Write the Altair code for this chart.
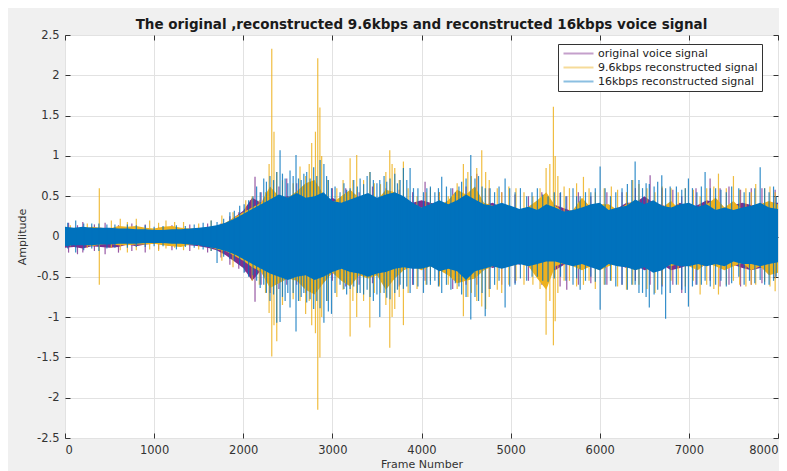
import altair as alt
import pandas as pd

# ---------------- data ----------------
series_names = ["original voice signal", "9.6kbps reconstructed signal", "16kbps reconstructed signal"]
series_colors = ["#7E2F8E", "#EDB120", "#0072BD"]

x_ticks = [0, 1000, 2000, 3000, 4000, 5000, 6000, 7000, 8000]
y_ticks = [-2.5, -2, -1.5, -1, -0.5, 0, 0.5, 1, 1.5, 2, 2.5]

# dense core of each signal, every 100 frames (0..8000)
frames = list(range(0, 8001, 100))

orig_hi = [0.11, 0.09, 0.10, 0.10, 0.11, 0.09, 0.08, 0.08, 0.09, 0.08,
           0.08, 0.07, 0.09, 0.08, 0.08, 0.10, 0.09, 0.11, 0.16, 0.24,
           0.32, 0.48, 0.42, 0.45, 0.48, 0.50, 0.48, 0.45, 0.50, 0.42,
           0.48, 0.42, 0.45, 0.42, 0.48, 0.42, 0.45, 0.42, 0.45, 0.42,
           0.45, 0.42, 0.39, 0.42, 0.45, 0.50, 0.42, 0.39, 0.42, 0.35,
           0.35, 0.31, 0.35, 0.39, 0.35, 0.39, 0.35, 0.31, 0.35, 0.39,
           0.35, 0.31, 0.35, 0.42, 0.42, 0.50, 0.42, 0.39, 0.35, 0.42,
           0.35, 0.39, 0.45, 0.42, 0.35, 0.39, 0.42, 0.39, 0.35, 0.42,
           0.42]
orig_lo = [-0.14, -0.13, -0.15, -0.12, -0.13, -0.14, -0.13, -0.10, -0.12, -0.10,
           -0.09, -0.10, -0.12, -0.10, -0.11, -0.12, -0.14, -0.17, -0.23, -0.31,
           -0.39, -0.55, -0.42, -0.48, -0.45, -0.48, -0.45, -0.42, -0.48, -0.42,
           -0.45, -0.39, -0.42, -0.39, -0.45, -0.39, -0.42, -0.39, -0.42, -0.35,
           -0.39, -0.35, -0.39, -0.42, -0.39, -0.42, -0.39, -0.35, -0.39, -0.35,
           -0.31, -0.35, -0.31, -0.35, -0.39, -0.42, -0.35, -0.31, -0.35, -0.31,
           -0.35, -0.31, -0.35, -0.39, -0.35, -0.42, -0.39, -0.35, -0.42, -0.39,
           -0.35, -0.39, -0.35, -0.31, -0.39, -0.35, -0.39, -0.42, -0.39, -0.35,
           -0.35]

k96_hi = [0.08, 0.10, 0.09, 0.12, 0.11, 0.10, 0.13, 0.12, 0.13, 0.11,
          0.10, 0.12, 0.13, 0.11, 0.10, 0.10, 0.11, 0.13, 0.17, 0.24,
          0.30, 0.36, 0.42, 0.62, 0.50, 0.48, 0.56, 0.66, 0.70, 0.52,
          0.42, 0.50, 0.58, 0.48, 0.52, 0.45, 0.58, 0.55, 0.45, 0.40,
          0.36, 0.33, 0.38, 0.45, 0.58, 0.52, 0.62, 0.42, 0.38, 0.34,
          0.36, 0.33, 0.37, 0.45, 0.55, 0.38, 0.30, 0.33, 0.48, 0.36,
          0.40, 0.40, 0.33, 0.40, 0.45, 0.36, 0.40, 0.36, 0.44, 0.33,
          0.36, 0.33, 0.40, 0.48, 0.36, 0.44, 0.33, 0.36, 0.40, 0.44,
          0.40]
k96_lo = [-0.08, -0.09, -0.10, -0.12, -0.10, -0.09, -0.11, -0.11, -0.10, -0.10,
          -0.09, -0.11, -0.12, -0.13, -0.10, -0.10, -0.11, -0.16, -0.18, -0.24,
          -0.30, -0.38, -0.44, -0.64, -0.58, -0.52, -0.55, -0.66, -0.72, -0.58,
          -0.45, -0.55, -0.62, -0.48, -0.52, -0.48, -0.66, -0.52, -0.42, -0.37,
          -0.42, -0.37, -0.42, -0.48, -0.58, -0.55, -0.52, -0.42, -0.37, -0.33,
          -0.37, -0.33, -0.37, -0.52, -0.66, -0.37, -0.33, -0.37, -0.42, -0.37,
          -0.42, -0.37, -0.33, -0.37, -0.42, -0.37, -0.42, -0.33, -0.37, -0.33,
          -0.37, -0.42, -0.33, -0.37, -0.42, -0.37, -0.33, -0.42, -0.37, -0.48,
          -0.45]

k16_hi = [0.12, 0.11, 0.12, 0.11, 0.11, 0.11, 0.10, 0.10, 0.09, 0.09,
          0.08, 0.08, 0.09, 0.09, 0.10, 0.11, 0.12, 0.14, 0.17, 0.22,
          0.28, 0.34, 0.40, 0.46, 0.52, 0.48, 0.54, 0.48, 0.50, 0.55,
          0.44, 0.42, 0.46, 0.50, 0.54, 0.48, 0.52, 0.55, 0.50, 0.42,
          0.36, 0.40, 0.45, 0.40, 0.45, 0.52, 0.46, 0.40, 0.38, 0.42,
          0.38, 0.34, 0.37, 0.33, 0.40, 0.36, 0.31, 0.33, 0.36, 0.40,
          0.42, 0.33, 0.36, 0.38, 0.46, 0.40, 0.45, 0.38, 0.36, 0.40,
          0.42, 0.37, 0.40, 0.33, 0.36, 0.33, 0.36, 0.38, 0.42, 0.36,
          0.34]
k16_lo = [-0.12, -0.11, -0.11, -0.11, -0.10, -0.10, -0.09, -0.09, -0.09, -0.08,
          -0.08, -0.08, -0.09, -0.09, -0.10, -0.11, -0.13, -0.15, -0.18, -0.22,
          -0.28, -0.34, -0.40, -0.46, -0.50, -0.54, -0.50, -0.48, -0.54, -0.50,
          -0.44, -0.40, -0.44, -0.46, -0.50, -0.46, -0.44, -0.40, -0.38, -0.40,
          -0.40, -0.37, -0.43, -0.40, -0.43, -0.54, -0.43, -0.40, -0.37, -0.40,
          -0.37, -0.34, -0.37, -0.34, -0.31, -0.31, -0.34, -0.37, -0.34, -0.38,
          -0.42, -0.34, -0.37, -0.38, -0.42, -0.38, -0.45, -0.42, -0.34, -0.37,
          -0.37, -0.34, -0.37, -0.34, -0.37, -0.31, -0.34, -0.34, -0.37, -0.34,
          -0.32]

# spikes sticking out of the core: (frame, top, bottom)
orig_spikes = [
    (40, 0.17, -0.2), (140, 0.14, -0.22), (200, 0.18, -0.2), (330, 0.15, -0.18), (450, 0.17, -0.22),
    (600, 0.14, -0.2), (750, 0.16, -0.18), (900, 0.15, -0.2), (1050, 0.12, -0.16), (1200, 0.14, -0.17),
    (1400, 0.15, -0.18), (1600, 0.16, -0.2), (1750, 0.16, -0.26), (1850, 0.25, -0.35), (1950, 0.3, -0.4),
    (2020, 0.3, -0.44), (2080, 0.45, -0.5), (2132, 0.74, -0.81), (2200, 0.55, -0.6), (2300, 0.6, -0.7),
    (2400, 0.62, -0.65), (2488, 0.72, -0.6), (2600, 0.66, -0.6), (2700, 0.6, -0.7), (2850, 0.62, -0.6),
    (3000, 0.6, -0.55), (3150, 0.6, -0.62), (3300, 0.55, -0.6), (3450, 0.62, -0.58), (3600, 0.6, -0.55),
    (3750, 0.58, -0.62), (3900, 0.55, -0.6), (4040, 0.68, -0.55), (4200, 0.55, -0.6), (4350, 0.6, -0.65),
    (4500, 0.62, -0.6), (4620, 0.78, -0.6), (4760, 0.6, -0.65), (4900, 0.55, -0.6), (5050, 0.52, -0.58),
    (5200, 0.5, -0.55), (5350, 0.55, -0.6), (5555, 0.54, -0.62), (5630, 0.5, -0.66), (5760, 0.55, -0.6),
    (5900, 0.5, -0.58), (6080, 0.55, -0.6), (6250, 0.55, -0.6), (6400, 0.6, -0.55), (6565, 0.76, -0.6),
    (6700, 0.6, -0.62), (6820, 0.58, -0.6), (6920, 0.5, -0.7), (7080, 0.6, -0.6), (7238, 0.72, -0.55),
    (7350, 0.6, -0.62), (7450, 0.62, -0.6), (7580, 0.58, -0.62), (7700, 0.6, -0.6), (7820, 0.6, -0.58),
    (7968, 0.58, -0.52)]

k96_spikes = [
    (60, 0.14, -0.12), (250, 0.16, -0.14), (385, 0.6, -0.6), (520, 0.2, -0.14), (620, 0.22, -0.17),
    (700, 0.18, -0.2), (800, 0.22, -0.17), (950, 0.2, -0.16), (1050, 0.17, -0.18), (1133, 0.2, -0.15),
    (1230, 0.18, -0.14), (1330, 0.18, -0.17), (1500, 0.16, -0.16), (1640, 0.2, -0.18), (1760, 0.26, -0.3),
    (1885, 0.3, -0.38), (2028, 0.45, -0.3), (2100, 0.5, -0.55), (2180, 0.45, -0.6), (2250, 0.55, -0.7),
    (2290, 0.9, -0.95), (2320, 2.33, -1.49), (2345, 1.3, -1.1), (2376, 0.8, -1.3), (2440, 0.7, -0.85),
    (2560, 0.66, -0.78), (2637, 0.87, -0.8), (2700, 0.75, -0.96), (2740, 0.9, -0.8), (2768, 1.16, -1.1),
    (2810, 1.3, -1.2), (2836, 2.21, -2.15), (2860, 1.6, -1.5), (2880, 1.0, -1.0), (2950, 0.7, -0.8),
    (3050, 0.6, -0.75), (3120, 0.7, -0.66), (3199, 0.97, -1.24), (3230, 0.7, -0.8), (3273, 1.01, -1.0),
    (3350, 0.7, -0.8), (3420, 0.8, -1.13), (3470, 0.66, -0.7), (3540, 0.65, -0.7), (3600, 0.8, -0.85),
    (3644, 1.07, -1.38), (3670, 0.9, -1.0), (3700, 0.85, -0.9), (3750, 0.7, -0.75), (3797, 0.93, -1.1),
    (3850, 0.6, -0.7), (3950, 0.5, -0.65), (4050, 0.55, -0.6), (4100, 0.6, -0.55), (4200, 0.55, -0.62),
    (4300, 0.5, -0.6), (4400, 0.66, -0.65), (4470, 0.9, -0.99), (4520, 0.8, -0.75), (4560, 0.75, -0.7),
    (4620, 0.85, -0.8), (4676, 1.07, -0.87), (4720, 0.8, -0.9), (4760, 0.7, -0.75), (4850, 0.6, -0.66),
    (4900, 0.55, -0.7), (4980, 0.62, -0.6), (5060, 0.6, -0.55), (5150, 0.55, -0.6), (5250, 0.5, -0.6),
    (5330, 0.6, -0.65), (5398, 0.85, -1.22), (5440, 0.9, -0.8), (5480, 1.61, -1.35), (5500, 1.0, -1.05),
    (5530, 0.75, -0.7), (5600, 0.62, -0.55), (5660, 0.6, -0.55), (5740, 0.66, -0.62), (5817, 0.74, -0.6),
    (5880, 0.6, -0.55), (5950, 0.55, -0.65), (6050, 0.6, -0.6), (6130, 0.62, -0.55), (6200, 0.58, -0.62),
    (6300, 0.55, -0.66), (6370, 0.7, -0.6), (6440, 0.65, -0.6), (6530, 0.6, -0.65), (6620, 0.55, -0.7),
    (6700, 0.62, -0.6), (6800, 0.6, -0.55), (6880, 0.55, -0.6), (6960, 0.6, -0.62), (7050, 0.58, -0.55),
    (7126, 0.5, -0.72), (7200, 0.6, -0.6), (7280, 0.62, -0.65), (7332, 0.78, -0.72), (7420, 0.6, -0.6),
    (7500, 0.75, -0.55), (7570, 0.58, -0.6), (7640, 0.6, -0.62), (7700, 0.55, -0.6), (7750, 0.65, -0.6),
    (7850, 0.6, -0.56), (7910, 0.62, -0.62), (7968, 0.55, -0.68)]

k16_spikes = [
    (30, 0.17, -0.15), (120, 0.2, -0.2), (210, 0.16, -0.17), (300, 0.16, -0.15), (380, 0.16, -0.18),
    (470, 0.15, -0.15), (560, 0.15, -0.14), (700, 0.15, -0.14), (800, 0.14, -0.13), (900, 0.14, -0.13),
    (1000, 0.12, -0.12), (1100, 0.13, -0.12), (1250, 0.14, -0.16), (1350, 0.13, -0.13), (1450, 0.15, -0.14),
    (1550, 0.17, -0.16), (1640, 0.2, -0.18), (1706, 0.18, -0.33), (1780, 0.22, -0.25), (1850, 0.3, -0.28),
    (1900, 0.32, -0.3), (1960, 0.38, -0.35), (2010, 0.4, -0.45), (2060, 0.45, -0.5), (2110, 0.5, -0.48),
    (2150, 0.62, -0.55), (2190, 0.55, -0.64), (2230, 0.72, -0.6), (2260, 0.68, -0.7), (2300, 0.75, -0.8),
    (2340, 0.7, -0.72), (2376, 0.8, -1.07), (2413, 1.07, -1.06), (2440, 0.78, -0.75), (2470, 0.72, -0.8),
    (2500, 0.66, -0.7), (2525, 0.82, -0.88), (2560, 0.75, -0.7), (2592, 1.01, -1.18), (2620, 0.72, -0.8),
    (2650, 0.7, -0.75), (2680, 0.78, -0.7), (2712, 0.8, -0.82), (2750, 0.72, -0.78), (2790, 0.86, -0.9),
    (2825, 0.75, -0.8), (2862, 0.95, -0.89), (2905, 0.9, -1.07), (2935, 0.75, -0.8), (2955, 0.7, -0.93),
    (2990, 0.6, -0.96), (3030, 0.62, -0.7), (3086, 0.55, -0.6), (3130, 0.66, -0.65), (3160, 0.58, -0.72),
    (3199, 0.6, -0.65), (3240, 0.7, -0.62), (3280, 0.62, -0.7), (3311, 0.72, -0.7), (3350, 0.65, -0.72),
    (3390, 0.75, -0.66), (3423, 0.8, -0.75), (3460, 0.7, -0.8), (3500, 0.66, -0.72), (3532, 0.7, -1.0),
    (3580, 0.75, -0.7), (3610, 0.68, -0.76), (3647, 0.72, -0.78), (3700, 0.78, -0.7), (3730, 0.66, -0.66),
    (3760, 0.7, -0.6), (3797, 0.85, -0.65), (3835, 0.7, -0.62), (3872, 0.85, -0.7), (3910, 0.6, -0.6),
    (3960, 0.6, -0.62), (4022, 0.55, -0.7), (4060, 0.6, -0.6), (4100, 0.62, -0.6), (4150, 0.55, -0.55),
    (4190, 0.6, -0.62), (4227, 0.74, -0.7), (4280, 0.62, -0.6), (4330, 0.6, -0.66), (4380, 0.55, -0.58),
    (4420, 0.62, -0.62), (4450, 0.68, -0.72), (4500, 0.72, -0.75), (4553, 1.01, -1.03), (4600, 0.72, -0.75),
    (4640, 0.75, -0.8), (4680, 0.62, -0.7), (4715, 0.6, -0.99), (4770, 0.6, -0.65), (4820, 0.55, -0.6),
    (4870, 0.62, -0.55), (4938, 0.72, -0.88), (4990, 0.6, -0.62), (5050, 0.55, -0.6), (5110, 0.6, -0.52),
    (5180, 0.5, -0.55), (5240, 0.55, -0.5), (5300, 0.6, -0.5), (5360, 0.52, -0.55), (5420, 0.5, -0.56),
    (5490, 0.55, -0.52), (5560, 0.55, -0.5), (5620, 0.5, -0.55), (5700, 0.6, -0.6), (5740, 0.5, -0.52),
    (5780, 0.5, -0.66), (5840, 0.55, -0.55), (5900, 0.55, -0.5), (5950, 0.6, -0.56), (6004, 0.87, -0.91),
    (6060, 0.6, -0.6), (6120, 0.5, -0.55), (6180, 0.55, -0.62), (6250, 0.6, -0.6), (6310, 0.65, -0.66),
    (6360, 0.7, -0.6), (6397, 0.93, -0.6), (6440, 0.7, -0.7), (6480, 0.6, -0.7), (6520, 0.66, -0.75),
    (6556, 0.65, -0.88), (6610, 0.62, -0.72), (6650, 0.68, -0.66), (6696, 0.76, -0.72), (6739, 0.6, -1.02),
    (6790, 0.62, -0.7), (6860, 0.62, -0.6), (6920, 0.58, -0.66), (6960, 0.6, -0.7), (6995, 0.72, -0.87),
    (7040, 0.6, -0.62), (7090, 0.55, -0.6), (7140, 0.62, -0.6), (7182, 0.8, -0.55), (7240, 0.6, -0.62),
    (7300, 0.6, -0.6), (7360, 0.58, -0.55), (7420, 0.55, -0.62), (7480, 0.62, -0.58), (7560, 0.6, -0.5),
    (7620, 0.55, -0.6), (7680, 0.55, -0.55), (7740, 0.6, -0.58), (7800, 0.86, -0.54), (7850, 0.6, -0.6),
    (7900, 0.55, -0.6), (7950, 0.62, -0.55), (7980, 0.5, -0.5)]

# ---------------- build tables ----------------
def env_df(hi, lo, name):
    return pd.DataFrame({"frame": frames, "hi": hi, "lo": lo, "series": name})

def spk_df(spikes, name):
    d = pd.DataFrame(spikes, columns=["frame", "top", "bot"])
    d["series"] = name
    return d

W, H = 713, 403
FONT = "DejaVu Sans"
xscale = alt.Scale(domain=[0, 8000], nice=False, zero=False)
yscale = alt.Scale(domain=[-2.5, 2.5], nice=False, zero=False)
cscale = alt.Scale(domain=series_names, range=series_colors)

def tick_axis(values, orient, offset):
    return alt.Axis(orient=orient, offset=offset, values=values, labels=False, domain=False,
                    grid=False, ticks=True, tickSize=5, tickColor="#333333", title=None)

main_x_axis = alt.Axis(orient="bottom", values=x_ticks, labelExpr="'' + datum.value", ticks=False,
                       domain=False, grid=True, gridColor="#e2e2e2", labelPadding=6, labelFont=FONT,
                       labelFontSize=11.5, labelColor="#333333", title="Frame Number", titleFont=FONT,
                       titleFontSize=11, titleFontWeight="normal", titleColor="#333333",
                       titleY=20, titleBaseline="top")
main_y_axis = alt.Axis(orient="left", values=y_ticks, labelExpr="'' + datum.value", ticks=False,
                       domain=False, grid=True, gridColor="#e2e2e2", labelPadding=6, labelFont=FONT,
                       labelFontSize=11.5, labelColor="#333333", title="Amplitude", titleFont=FONT,
                       titleFontSize=11, titleFontWeight="normal", titleColor="#333333",
                       titleX=-43, titleY=H / 2, titleAngle=-90, titleAlign="center",
                       titleBaseline="middle")

def area_layer(df, xaxis, yaxis):
    return alt.Chart(df).mark_area(interpolate="linear", opacity=1).encode(
        x=alt.X("frame:Q", scale=xscale, axis=xaxis),
        y=alt.Y("hi:Q", scale=yscale, axis=yaxis),
        y2="lo:Q",
        color=alt.Color("series:N", scale=cscale, legend=None),
    )

def spike_layer(df, xaxis, yaxis, legend=None, op=0.8):
    return alt.Chart(df).mark_rule(strokeWidth=1.2, opacity=op).encode(
        x=alt.X("frame:Q", scale=xscale, axis=xaxis),
        y=alt.Y("top:Q", scale=yscale, axis=yaxis),
        y2="bot:Q",
        color=alt.Color("series:N", scale=cscale, legend=legend),
    )

legend = alt.Legend(title=None, orient="none", legendX=493, legendY=9, direction="vertical",
                    fillColor="white", strokeColor="#333333", padding=4, labelFont=FONT,
                    labelFontSize=11, labelColor="#222222", symbolType="M-1,0H6.5", symbolSize=64,
                    symbolStrokeWidth=2, symbolOpacity=0.45, rowPadding=2, labelOffset=25,
                    labelLimit=300, cornerRadius=0)

layers = [
    area_layer(env_df(orig_hi, orig_lo, series_names[0]), main_x_axis, main_y_axis),
    spike_layer(spk_df(orig_spikes, series_names[0]), None, tick_axis(y_ticks, "right", -W)),
    area_layer(env_df(k96_hi, k96_lo, series_names[1]), tick_axis(x_ticks, "bottom", -H), None),
    spike_layer(spk_df(k96_spikes, series_names[1]), None, tick_axis(y_ticks, "left", -W), op=0.85),
    area_layer(env_df(k16_hi, k16_lo, series_names[2]), tick_axis(x_ticks, "top", -H), None),
    spike_layer(spk_df(k16_spikes, series_names[2]), None, None, legend),
]

chart = alt.layer(*layers).resolve_axis(x="independent", y="independent").resolve_legend(
    color="independent").properties(
    width=W, height=H,
    title=alt.TitleParams(
        text="The original ,reconstructed 9.6kbps and reconstructed 16kbps voice signal",
        font=FONT, fontSize=13.5, fontWeight="bold", color="#1a1a1a", anchor="middle", offset=-2),
    padding={"left": 57, "top": 27, "right": 1, "bottom": 33},
    autosize=alt.AutoSizeParams(type="none"),
).configure(background="#f0f0f0").configure_view(fill="white", stroke="#404040", strokeWidth=1)

chart.save("out.html", embed_options={"renderer": "svg", "actions": False})
